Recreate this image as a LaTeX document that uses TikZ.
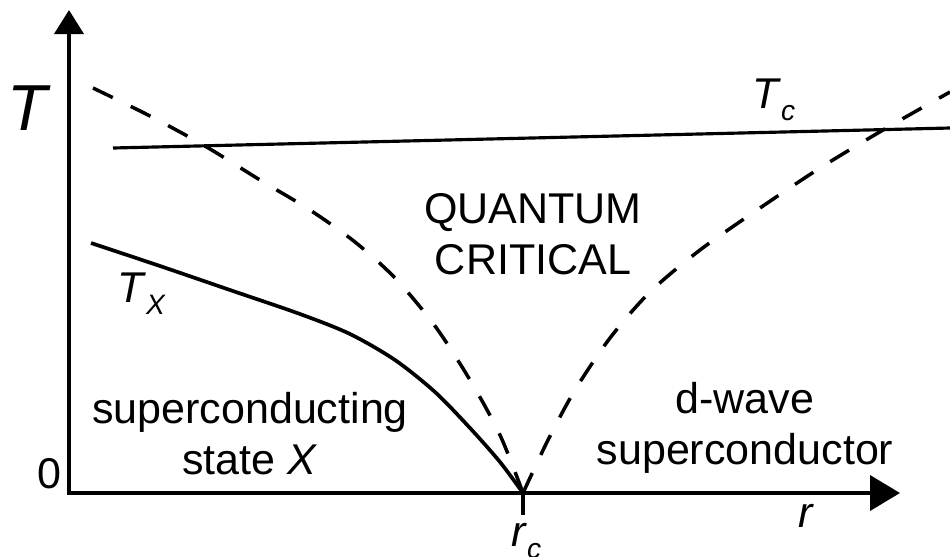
\documentclass[tikz,border=0pt]{standalone}
\usepackage{fontspec}
\setmainfont{Liberation Sans}
\usetikzlibrary{arrows.meta}

% italic symbol with a lowered italic index
\newcommand{\lblsub}[2]{\textit{#1}\raisebox{-0.3em}{\fontsize{16}{16}\selectfont\textit{#2}}}

\begin{document}
\begin{tikzpicture}[x=0.02cm, y=-0.02cm,
  axis/.style={line width=2.2pt},
  phase/.style={line width=2.1pt},
  crossover/.style={line width=2pt, dash pattern=on 0.44cm off 0.4cm},
  region/.style={font=\fontsize{24.5}{29}\selectfont, align=center, inner sep=0pt},
  lbl/.style={font=\fontsize{24.5}{29}\selectfont, inner sep=0pt},
]
\useasboundingbox (0,0) rectangle (950,556);

% === Axes ===
\coordinate (origin) at (69,493);
\coordinate (ytip) at (69,10);
\coordinate (xtip) at (900,493);
\coordinate (rc) at (523,493);
\draw[axis, {Triangle[length=4.8mm,width=5.8mm]}-{Triangle[length=6mm,width=7mm]}] (ytip) -- (origin) -- (xtip);
\draw[axis] (rc) -- ++(0,22);

\node[lbl, font=\fontsize{37}{37}\selectfont, anchor=base] (taxis) at (29,130) {\textit{T}};
\node[lbl, anchor=base] (zero) at (49,488) {0};
\node[lbl, anchor=base] (raxis) at (806,527) {\textit{r}};
\node[lbl, anchor=base west] (rclbl) at (511,546) {\lblsub{r}{c}};

% === Transition lines ===
\draw[phase, line width=1.8pt] (113,148) -- (950,128);
\node[lbl, anchor=base west] (tclbl) at (752,108) {\lblsub{T}{c}};

\draw[phase] plot[smooth, tension=0.5] coordinates {(91,243) (160,266) (230,290) (300,314) (350,334) (395,360) (435,392) (470,428) (500,462) (rc)};
\node[lbl, anchor=base west] (txlbl) at (117,302) {\lblsub{T}{X}};

% === Crossover lines ===
\draw[crossover] plot[smooth, tension=0.5] coordinates {(93,88) (150,116) (205,146) (260,180) (310,210) (355,242) (395,278) (435,326) (470,380) (500,435) (rc)};
\draw[crossover] plot[smooth, tension=0.5] coordinates {(rc) (548,440) (575,390) (610,338) (650,292) (700,250) (760,208) (820,168) (883,130) (950,92)};

% === Regions ===
\node[region, anchor=north] (qc) at (533,193) {QUANTUM\\CRITICAL};
\node[region, anchor=north] (scx) at (250,392) {superconducting\\state \textit{X}};
\node[region, anchor=north] (dsc) at (745,382) {d-wave\\superconductor};

\end{tikzpicture}
\end{document}
